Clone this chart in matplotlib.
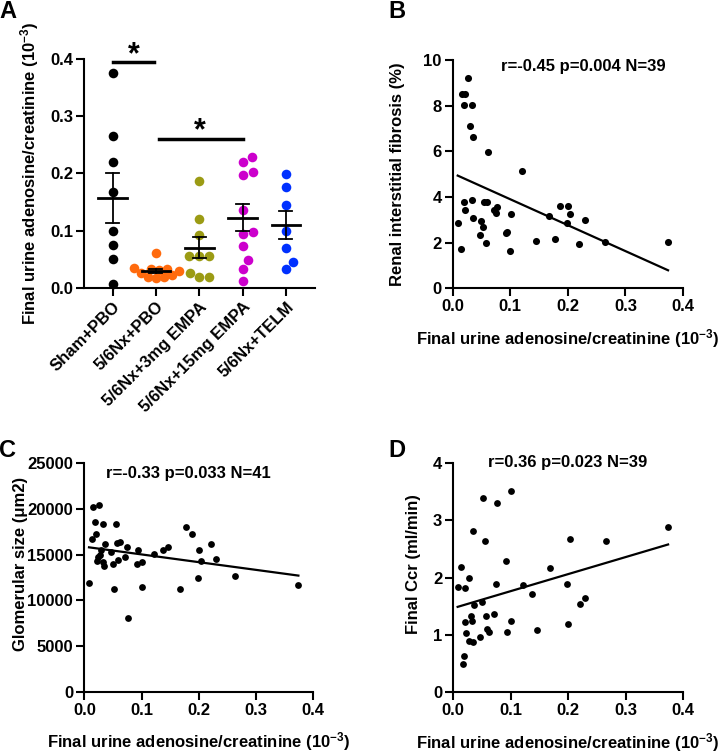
import numpy as np
import matplotlib
matplotlib.use("Agg")
import matplotlib.pyplot as plt
from matplotlib.ticker import FormatStrFormatter

plt.rcParams['font.family'] = ['Liberation Sans', 'DejaVu Sans']
plt.rcParams['font.weight'] = 'bold'
plt.rcParams['axes.labelweight'] = 'bold'
plt.rcParams['font.size'] = 12
plt.rcParams['mathtext.fontset'] = 'custom'
plt.rcParams['mathtext.rm'] = 'Liberation Sans:bold'
plt.rcParams['mathtext.default'] = 'rm'

# ---- panel A: groups ----
groups = ["Sham+PBO", "5/6Nx+PBO", "5/6Nx+3mg EMPA", "5/6Nx+15mg EMPA", "5/6Nx+TELM"]
group_colors = ["black", "#ff6a0d", "#9b9b14", "#cc00cc", "#0030ff"]
sham_pbo = [0.375, 0.265, 0.2195, 0.167, 0.100, 0.076, 0.0507, 0.007]
nx_pbo = [0.062, 0.035, 0.034, 0.033, 0.031, 0.029, 0.027, 0.022, 0.020, 0.019, 0.018]
nx_empa3 = [0.1875, 0.1205, 0.0926, 0.056, 0.056, 0.056, 0.027, 0.020, 0.020]
nx_empa15 = [0.229, 0.2207, 0.203, 0.198, 0.136, 0.098, 0.094, 0.074, 0.049, 0.034, 0.013]
nx_telm = [0.1997, 0.177, 0.145, 0.0996, 0.070, 0.046, 0.0326]
group_values = [sham_pbo, nx_pbo, nx_empa3, nx_empa15, nx_telm]

# ---- panel B: adenosine vs fibrosis ----
b_x = [0.0272, 0.0157, 0.0214, 0.0197, 0.033, 0.030, 0.036, 0.062, 0.121, 0.0087,
       0.0139, 0.020, 0.022, 0.034, 0.035, 0.050, 0.052, 0.048, 0.057, 0.055,
       0.060, 0.071, 0.075, 0.077, 0.093, 0.095, 0.101, 0.0997, 0.145, 0.1675,
       0.177, 0.187, 0.200, 0.198, 0.203, 0.230, 0.220, 0.264, 0.374]
b_y = [9.20, 8.50, 8.50, 8.01, 8.04, 7.09, 6.61, 5.97, 5.14, 2.86,
       1.74, 3.80, 3.43, 3.87, 3.09, 2.93, 2.69, 2.35, 2.00, 3.80,
       3.80, 3.43, 3.28, 3.58, 2.44, 2.47, 3.24, 1.62, 2.09, 3.17,
       2.18, 3.62, 3.62, 2.88, 3.27, 2.98, 1.93, 2.04, 2.04]

# ---- panel C: adenosine vs glomerular size ----
c_x = [0.0082, 0.0158, 0.0262, 0.0187, 0.0332, 0.0547, 0.0134, 0.0204, 0.0361, 0.0216,
       0.028, 0.0286, 0.0332, 0.0344, 0.0466, 0.0565, 0.0622, 0.0506, 0.0593, 0.071,
       0.075, 0.0518, 0.0762, 0.094, 0.0914, 0.100, 0.101, 0.1216, 0.1367, 0.1454,
       0.168, 0.1775, 0.188, 0.1996, 0.203, 0.1984, 0.2205, 0.2293, 0.264, 0.374, 0.0245]
c_y = [11930, 20180, 20470, 18610, 18320, 18350, 16680, 17260, 16130, 14270,
       14960, 15510, 14230, 13760, 15330, 16310, 16420, 13940, 14410, 14780,
       15800, 11240, 8030, 15510, 13980, 14160, 11500, 15040, 15510, 15870,
       11200, 18060, 17300, 15550, 14300, 12480, 16130, 14560, 12700, 11680, 14780]

# ---- panel D: adenosine vs Ccr ----
d_x = [0.0524, 0.0768, 0.1013, 0.0349, 0.0553, 0.092, 0.0129, 0.0274, 0.0076, 0.021,
       0.036, 0.050, 0.0745, 0.121, 0.1374, 0.168, 0.2036, 0.2653, 0.374, 0.1984,
       0.221, 0.2298, 0.200, 0.1455, 0.100, 0.094, 0.071, 0.0565, 0.0594, 0.0623,
       0.047, 0.0303, 0.0332, 0.0204, 0.0216, 0.0268, 0.0349, 0.0192, 0.017]
d_y = [3.39, 3.30, 3.51, 2.81, 2.64, 2.29, 2.18, 2.00, 1.83, 1.82,
       1.53, 1.57, 1.88, 1.87, 1.71, 2.16, 2.68, 2.64, 2.88, 1.88,
       1.54, 1.64, 1.19, 1.09, 1.24, 1.05, 1.37, 1.33, 1.10, 1.05,
       0.97, 1.33, 1.24, 1.23, 1.03, 0.89, 0.87, 0.64, 0.50]

xlabel = "Final urine adenosine/creatinine (10$^{-3}$)"


def swarm_offsets(vals, y_px, x_px, d_px):
    # simple beeswarm: push each dot sideways until it does not overlap
    vals = np.asarray(vals)
    offs = np.zeros(len(vals))
    placed = []
    for i in np.argsort(vals):
        y = vals[i] * y_px
        for k in range(200):
            found = False
            for cand in ([0] if k == 0 else [k, -k]):
                if all((cand - px) ** 2 + (y - py) ** 2 >= d_px ** 2 for px, py in placed):
                    offs[i] = cand
                    placed.append((cand, y))
                    found = True
                    break
            if found:
                break
    return offs / x_px


def style(ax):
    for s in ['top', 'right']:
        ax.spines[s].set_visible(False)
    for s in ['left', 'bottom']:
        ax.spines[s].set_linewidth(1.5)
    ax.tick_params(width=1.5, length=6, labelsize=12, pad=2)
    for lab in ax.get_xticklabels() + ax.get_yticklabels():
        lab.set_fontweight('bold')


fig = plt.figure(figsize=(7.25, 7.55), dpi=100)

# ---------------- A ----------------
axA = fig.add_axes([0.1159, 0.6185, 0.3186, 0.3034])
swarm_gap = [9.8, 8.0, 9.8, 9.8, 9.8]
for gi, (vals, col) in enumerate(zip(group_values, group_colors)):
    offs = swarm_offsets(vals, 572.5, 43.3, swarm_gap[gi])
    axA.scatter(gi + offs, vals, s=48, color=col, zorder=3, clip_on=False, linewidths=0)
    m = np.mean(vals)
    sem = np.std(vals, ddof=1) / np.sqrt(len(vals))
    axA.plot([gi - 0.33, gi + 0.33], [m, m], color='black', lw=2, zorder=4)
    axA.plot([gi, gi], [m - sem, m + sem], color='black', lw=1.3, zorder=4)
    for yy in (m - sem, m + sem):
        axA.plot([gi - 0.15, gi + 0.15], [yy, yy], color='black', lw=1.3, zorder=4)
axA.plot([0, 0.96], [0.395, 0.395], color='black', lw=2.5, clip_on=False)
axA.text(0.48, 0.407, "*", ha='center', va='center', fontsize=22, fontweight='bold')
axA.plot([1.07, 3.0], [0.261, 0.261], color='black', lw=2.5)
axA.text(2.02, 0.274, "*", ha='center', va='center', fontsize=22, fontweight='bold')
axA.set_xlim(-0.66, 4.67)
axA.set_ylim(0, 0.4)
axA.set_yticks(np.arange(0, 0.41, 0.1))
axA.yaxis.set_major_formatter(FormatStrFormatter('%.1f'))
axA.set_xticks(range(len(groups)))
axA.set_xticklabels(groups, rotation=45, ha='right', rotation_mode='anchor')
axA.set_ylabel(xlabel)
axA.yaxis.set_label_coords(-0.186, 0.5)
style(axA)


def scatter_panel(rect, xs, ys, ylim, yticks, ylabel, stat, stat_xy, ylab_xy, yfmt=None, s=26):
    ax = fig.add_axes(rect)
    ax.scatter(xs, ys, s=s, color='black', zorder=3, clip_on=False, linewidths=0)
    k, b = np.polyfit(xs, ys, 1)
    xx = np.array([min(xs), max(xs)])
    ax.plot(xx, k * xx + b, color='black', lw=1.6)
    ax.set_xlim(0, 0.4)
    ax.set_ylim(*ylim)
    ax.set_xticks(np.arange(0, 0.41, 0.1))
    ax.xaxis.set_major_formatter(FormatStrFormatter('%.1f'))
    ax.set_yticks(yticks)
    if yfmt:
        ax.yaxis.set_major_formatter(FormatStrFormatter(yfmt))
    ax.text(stat_xy[0], stat_xy[1], stat, ha='center', va='center', fontsize=12, fontweight='bold')
    ax.set_xlabel(xlabel, labelpad=9)
    ax.set_ylabel(ylabel)
    ax.yaxis.set_label_coords(*ylab_xy)
    style(ax)
    return ax


scatter_panel([0.6244, 0.6181, 0.3177, 0.3024], b_x, b_y, (0, 10), range(0, 11, 2),
              "Renal interstitial fibrosis (%)", "r=-0.45 p=0.004 N=39", (0.226, 9.7), (-0.207, 0.5))
scatter_panel([0.1163, 0.0838, 0.3158, 0.3026], c_x, c_y, (0, 25000), range(0, 25001, 5000),
              "Glomerular size (\u03bcm2)", "r=-0.33 p=0.033 N=41", (0.181, 23900), (-0.245, 0.56), s=24)
scatter_panel([0.6252, 0.0830, 0.3169, 0.3041], d_x, d_y, (0, 4), range(0, 5),
              "Final Ccr (ml/min)", "r=0.36 p=0.023 N=39", (0.1996, 4.0), (-0.14, 0.56), s=24)

for lab, x, y in [("A", 8, 12), ("B", 397, 12), ("C", 8, 450), ("D", 397, 450)]:
    fig.text(x / 725, 1 - y / 755, lab, ha='center', va='center', fontsize=17, fontweight='bold')

fig.savefig("out.png", dpi=100)
